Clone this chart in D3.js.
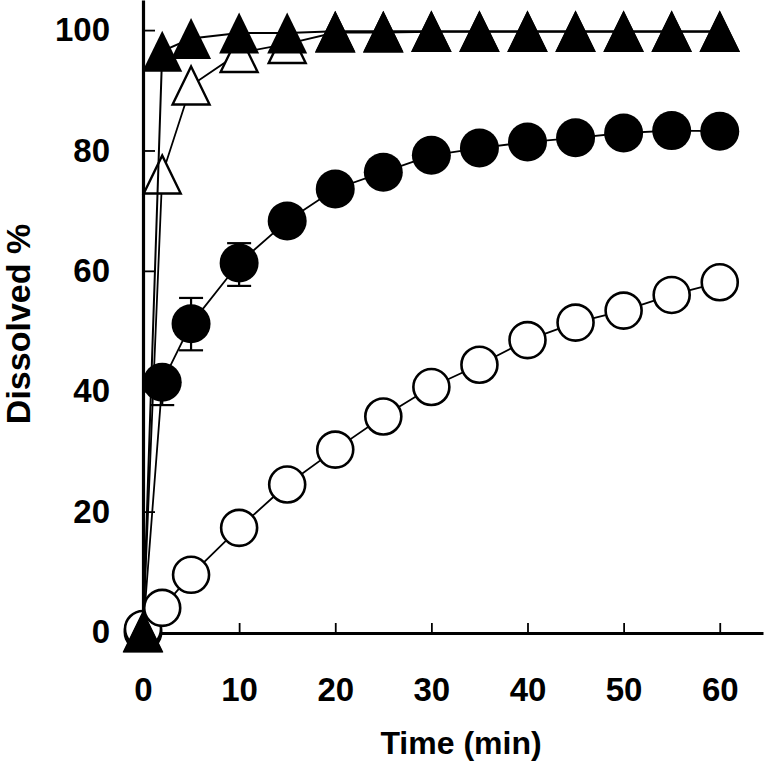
<!DOCTYPE html>
<html>
<head>
<meta charset="utf-8">
<script src="https://cdn.jsdelivr.net/npm/d3@7"></script>
<style>
  html, body { margin: 0; padding: 0; background: #fff; }
  svg { display: block; }
  text { font-family: "Liberation Sans", Arial, sans-serif; font-weight: bold; fill: #000; }
</style>
</head>
<body>
<svg id="chart" width="767" height="766"></svg>
<script>
// ---- data ----
const times = [0, 2, 5, 10, 15, 20, 25, 30, 35, 40, 45, 50, 55, 60];
const filledTriangle = [0, 96.5, 98.6, 99.5, 99.5, 99.8, 99.8, 99.8, 99.8, 99.8, 99.8, 99.8, 99.8, 99.8];
const openTriangle   = [0, 76.0, 90.8, 96.2, 97.7, 99.6, 99.6, 99.7, 99.7, 99.7, 99.7, 99.7, 99.7, 99.7];
const filledCircle   = [0, 41.5, 51.2, 61.3, 68.3, 73.6, 76.4, 79.2, 80.4, 81.4, 82.1, 82.9, 83.3, 83.2];
const filledCircleErrUp   = [0, 0, 4.3, 3.3, 0, 0, 0, 0, 0, 0, 0, 0, 0, 0];
const filledCircleErrDown = [0, 3.8, 4.4, 3.8, 0, 0, 0, 0, 0, 0, 0, 0, 0, 0];
const openCircle     = [0.5, 4.0, 9.5, 17.3, 24.5, 30.3, 35.8, 40.7, 44.4, 48.5, 51.4, 53.4, 56.0, 58.1];
const xTicks = [0, 10, 20, 30, 40, 50, 60];
const yTicks = [0, 20, 40, 60, 80, 100];
const xLabel = "Time (min)";
const yLabel = "Dissolved %";

// ---- layout ----
const svg = d3.select("#chart");
const x = d3.scaleLinear().domain([0, 64.5]).range([143, 763]);
const y = d3.scaleLinear().domain([0, 105]).range([632, 0]);

// axes
const yAxis = d3.axisLeft(y).tickValues(yTicks).tickSizeInner(-12).tickSizeOuter(0).tickPadding(33);
const xAxis = d3.axisBottom(x).tickValues(xTicks).tickSizeInner(-10).tickSizeOuter(0).tickPadding(45);

const gy = svg.append("g").attr("transform", "translate(143,0)").call(yAxis);
const gx = svg.append("g").attr("transform", "translate(0,633)").call(xAxis);
[gx, gy].forEach(g => {
  g.select(".domain").attr("stroke", "#000").attr("stroke-width", 3.2);
  g.selectAll(".tick line").attr("stroke", "#000").attr("stroke-width", 1.8);
  g.selectAll(".tick text").attr("font-size", 33).attr("font-family", "Liberation Sans, Arial, sans-serif").attr("font-weight", "bold").attr("fill", "#000");
});

svg.append("text").attr("x", 461).attr("y", 754).attr("text-anchor", "middle")
  .attr("font-size", 32).text(xLabel);
svg.append("text").attr("transform", "translate(30,324) rotate(-90)").attr("text-anchor", "middle")
  .attr("font-size", 34).text(yLabel);

// helpers
const line = d3.line().x(d => x(d[0])).y(d => y(d[1]));
function series(vals) { return times.map((t, i) => [t, vals[i]]); }
function triPath(w, h) {
  return `M0,${-h/2}L${w/2},${h/2}L${-w/2},${h/2}Z`;
}

const plot = svg.append("g");

// filled circles
const fc = series(filledCircle);
plot.append("path").datum(fc).attr("d", line)
  .attr("fill", "none").attr("stroke", "#000").attr("stroke-width", 1.8);
const eb = plot.append("g").attr("stroke", "#000").attr("stroke-width", 2.2);
fc.forEach((d, i) => {
  const up = filledCircleErrUp[i], dn = filledCircleErrDown[i];
  if (up > 0) {
    eb.append("line").attr("x1", x(d[0])).attr("x2", x(d[0])).attr("y1", y(d[1])).attr("y2", y(d[1] + up));
    eb.append("line").attr("x1", x(d[0]) - 12).attr("x2", x(d[0]) + 12).attr("y1", y(d[1] + up)).attr("y2", y(d[1] + up));
  }
  if (dn > 0) {
    eb.append("line").attr("x1", x(d[0])).attr("x2", x(d[0])).attr("y1", y(d[1])).attr("y2", y(d[1] - dn));
    eb.append("line").attr("x1", x(d[0]) - 12).attr("x2", x(d[0]) + 12).attr("y1", y(d[1] - dn)).attr("y2", y(d[1] - dn));
  }
});
plot.selectAll(".fc").data(fc).join("circle")
  .attr("cx", d => x(d[0])).attr("cy", d => y(d[1])).attr("r", 19.5)
  .attr("fill", "#000");

// open circles
plot.append("path").datum(series(openCircle)).attr("d", line)
  .attr("fill", "none").attr("stroke", "#000").attr("stroke-width", 1.8);
plot.selectAll(".oc").data(series(openCircle)).join("circle")
  .attr("cx", d => x(d[0])).attr("cy", d => y(d[1])).attr("r", 18)
  .attr("fill", "#fff").attr("stroke", "#000").attr("stroke-width", 2.6);

// open triangles
const ot = series(openTriangle);
plot.append("path").datum(ot).attr("d", line)
  .attr("fill", "none").attr("stroke", "#000").attr("stroke-width", 1.8);
plot.selectAll(".ot").data(ot).join("path")
  .attr("transform", d => `translate(${x(d[0])},${y(d[1])})`)
  .attr("d", triPath(37, 38))
  .attr("fill", "#fff").attr("stroke", "#000").attr("stroke-width", 2.4).attr("stroke-linejoin", "miter");

// filled triangles
const ft = series(filledTriangle);
plot.append("path").datum(ft).attr("d", line)
  .attr("fill", "none").attr("stroke", "#000").attr("stroke-width", 2);
plot.selectAll(".ft").data(ft).join("path")
  .attr("transform", d => `translate(${x(d[0])},${y(d[1])})`)
  .attr("d", triPath(40, 41))
  .attr("fill", "#000");
</script>
</body>
</html>
